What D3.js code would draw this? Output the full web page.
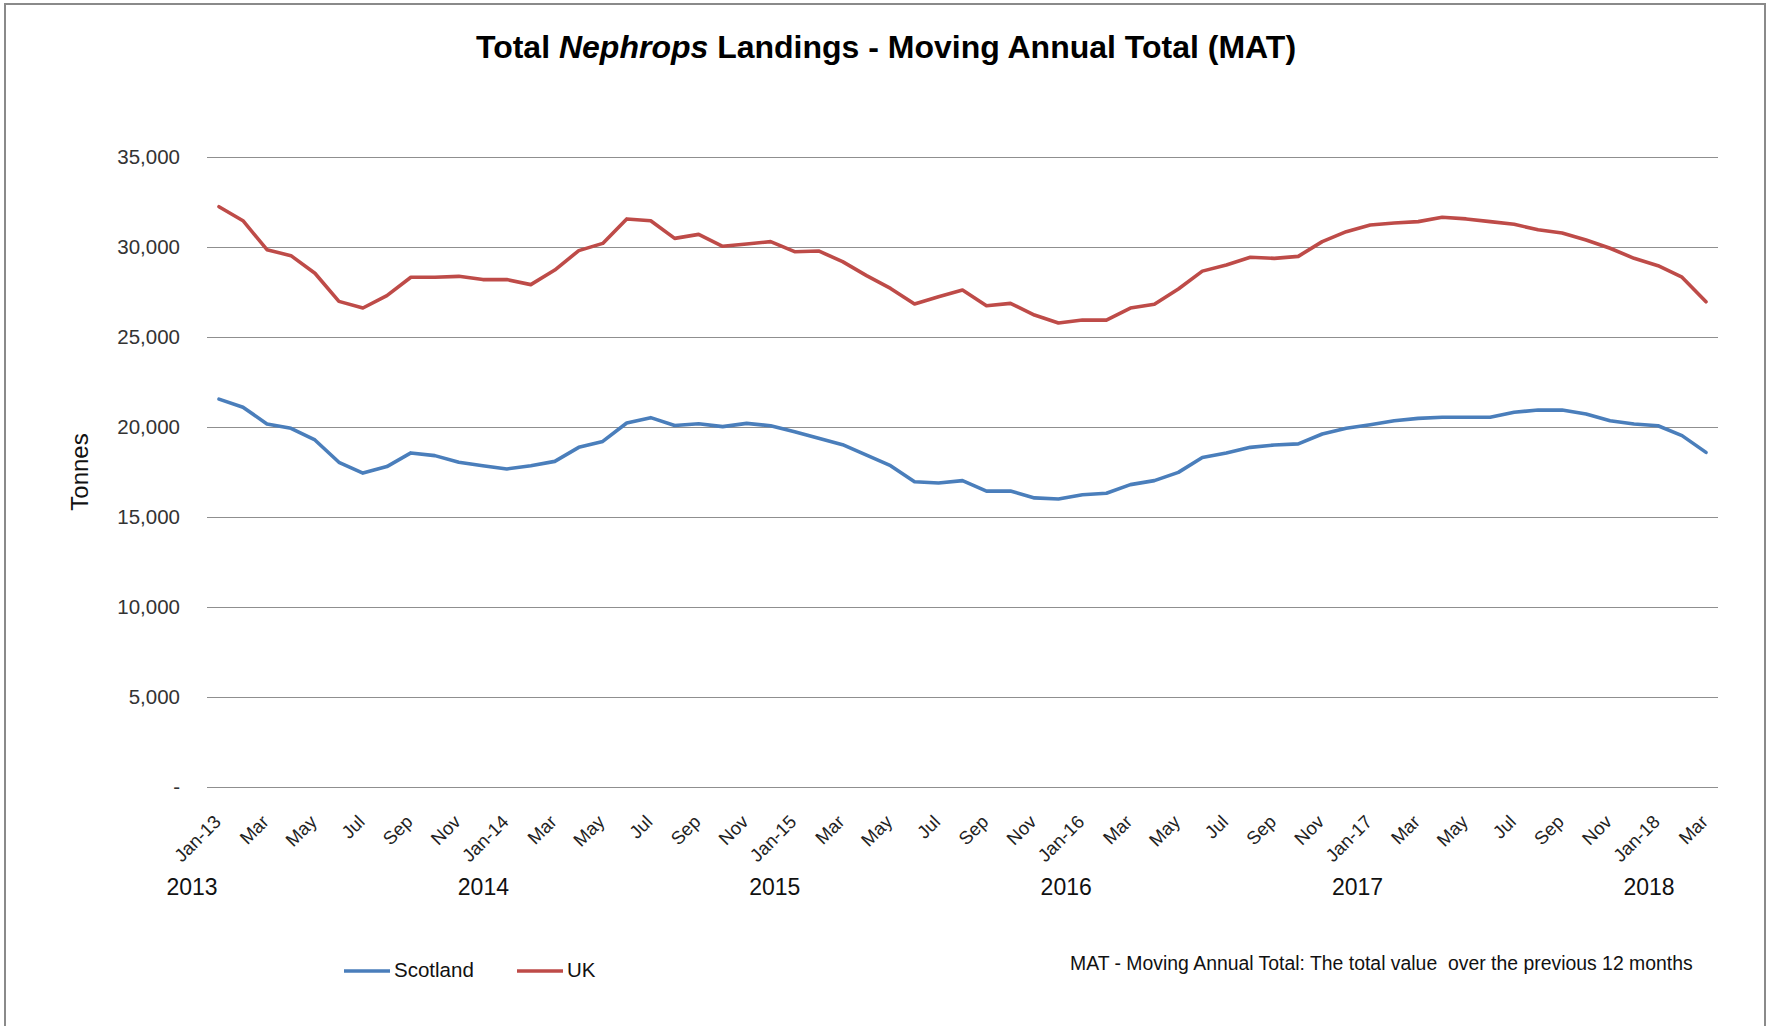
<!DOCTYPE html>
<html>
<head>
<meta charset="utf-8">
<script src="https://cdn.jsdelivr.net/npm/d3@7"></script>
<style>
  body { margin: 0; background: #fff; }
  svg { display: block; font-family: "Liberation Sans", Arial, sans-serif; }
</style>
</head>
<body>
<svg width="1773" height="1026"></svg>
<script>
// Data
const years = [2013, 2014, 2015, 2016, 2017, 2018];
const monthNames = ["Jan", "Feb", "Mar", "Apr", "May", "Jun", "Jul", "Aug", "Sep", "Oct", "Nov", "Dec"];

const scotland = [
  21550, 21100, 20170, 19930, 19280, 18040, 17440, 17800, 18560, 18410, 18040, 17850,
  17670, 17850, 18090, 18870, 19200, 20220, 20520, 20080, 20180, 20020, 20200, 20070,
  19740, 19370, 19020, 18440, 17850, 16960, 16890, 17020, 16440, 16440, 16060, 16000,
  16240, 16320, 16800, 17020, 17480, 18310, 18560, 18870, 19000, 19060, 19610, 19930,
  20130, 20350, 20480, 20540, 20540, 20540, 20820, 20940, 20940, 20720, 20350, 20170,
  20070, 19520, 18590
];

const uk = [
  32240, 31460, 29850, 29520, 28540, 26980, 26610, 27300, 28320, 28320, 28370, 28190,
  28190, 27910, 28720, 29800, 30200, 31560, 31460, 30480, 30700, 30040, 30170, 30300,
  29740, 29780, 29190, 28410, 27700, 26830, 27240, 27610, 26740, 26870, 26220, 25780,
  25940, 25940, 26610, 26820, 27670, 28660, 29000, 29430, 29370, 29480, 30300, 30850,
  31220, 31330, 31410, 31650, 31560, 31410, 31260, 30960, 30780, 30390, 29930, 29370,
  28960, 28320, 26960
];

const yTicks = [0, 5000, 10000, 15000, 20000, 25000, 30000, 35000];

// categories: one per month, Jan-13 .. Mar-18
const categories = [];
years.forEach(yr => monthNames.forEach((m, mi) => categories.push({ yr, m, mi })));
categories.length = scotland.length;
const catKey = c => `${c.m}-${String(c.yr).slice(2)}`;

// Plot sizes
const margin = { l: 207, r: 55, t: 157, b: 239 };
const W = 1773, H = 1026;

const svg = d3.select("svg");

// frame
svg.append("rect")
  .attr("x", 5).attr("y", 4)
  .attr("width", 1760).attr("height", 1040)
  .attr("fill", "none")
  .attr("stroke", "#8a8a8a")
  .attr("stroke-width", 2);

const xScale = d3.scalePoint()
  .domain(categories.map(catKey))
  .range([margin.l, W - margin.r])
  .padding(0.5);

const yScale = d3.scaleLinear()
  .domain([0, 35000])
  .range([H - margin.b, margin.t]);

// year labels sit in their own evenly spaced row
const yearScale = d3.scalePoint()
  .domain(years)
  .range([192, 1649]);

// grid
svg.append("g")
  .selectAll("line")
  .data(yTicks)
  .enter()
  .append("line")
    .attr("x1", margin.l)
    .attr("x2", W - margin.r)
    .attr("y1", d => Math.round(yScale(d)) + 0.5)
    .attr("y2", d => Math.round(yScale(d)) + 0.5)
    .attr("stroke", "#8f8f8f")
    .attr("stroke-width", 1.2);

// y axis labels
const fmt = d3.format(",");
svg.append("g")
  .selectAll("text")
  .data(yTicks)
  .enter()
  .append("text")
    .attr("x", 180)
    .attr("y", d => yScale(d))
    .attr("dy", "0.36em")
    .attr("text-anchor", "end")
    .attr("font-size", 20.5)
    .attr("fill", "#333")
    .text(d => d === 0 ? "-" : fmt(d));

svg.append("text")
  .attr("transform", `translate(79, 472) rotate(-90)`)
  .attr("text-anchor", "middle")
  .attr("dy", "0.36em")
  .attr("font-size", 24)
  .attr("fill", "#111")
  .text("Tonnes");

// x axis labels (every second month)
const axisY = yScale(0);
svg.append("g")
  .selectAll("text")
  .data(categories.filter(c => c.mi % 2 === 0))
  .enter()
  .append("text")
    .attr("transform", d => `translate(${xScale(catKey(d)) + 3}, ${axisY + 36}) rotate(-45)`)
    .attr("text-anchor", "end")
    .attr("font-size", 18.5)
    .attr("fill", "#222")
    .text(d => d.mi === 0 ? catKey(d) : d.m);

// year labels
svg.append("g")
  .selectAll("text")
  .data(years)
  .enter()
  .append("text")
    .attr("x", d => yearScale(d))
    .attr("y", 895)
    .attr("text-anchor", "middle")
    .attr("font-size", 23)
    .attr("fill", "#111")
    .text(d => d);

// lines
const line = d3.line()
  .x((d, i) => xScale(catKey(categories[i])))
  .y(d => yScale(d));

const series = [
  { name: "Scotland", values: scotland, color: "#4a7ebb" },
  { name: "UK", values: uk, color: "#be4b48" }
];

svg.append("g")
  .selectAll("path")
  .data(series)
  .enter()
  .append("path")
    .attr("d", d => line(d.values))
    .attr("fill", "none")
    .attr("stroke", d => d.color)
    .attr("stroke-width", 3.6)
    .attr("stroke-linejoin", "round")
    .attr("stroke-linecap", "round");

// title
const title = svg.append("text")
  .attr("x", 886)
  .attr("y", 58)
  .attr("text-anchor", "middle")
  .attr("font-size", 32)
  .attr("font-weight", "bold")
  .attr("fill", "#000");
title.append("tspan").text("Total ");
title.append("tspan").attr("font-style", "italic").text("Nephrops");
title.append("tspan").text(" Landings - Moving Annual Total (MAT)");

// legend
const legendX = [344, 517];
const legend = svg.append("g")
  .selectAll("g")
  .data(series)
  .enter()
  .append("g")
    .attr("transform", (d, i) => `translate(${legendX[i]}, 971)`);

legend.append("line")
  .attr("x1", 0).attr("x2", 46)
  .attr("stroke", d => d.color)
  .attr("stroke-width", 3.6);

legend.append("text")
  .attr("x", 50)
  .attr("y", 6)
  .attr("font-size", 20.5)
  .attr("fill", "#111")
  .text(d => d.name);

// note
svg.append("text")
  .attr("x", 1070)
  .attr("y", 970)
  .attr("font-size", 19.4)
  .attr("fill", "#111")
  .attr("xml:space", "preserve")
  .text("MAT - Moving Annual Total: The total value  over the previous 12 months");
</script>
</body>
</html>
